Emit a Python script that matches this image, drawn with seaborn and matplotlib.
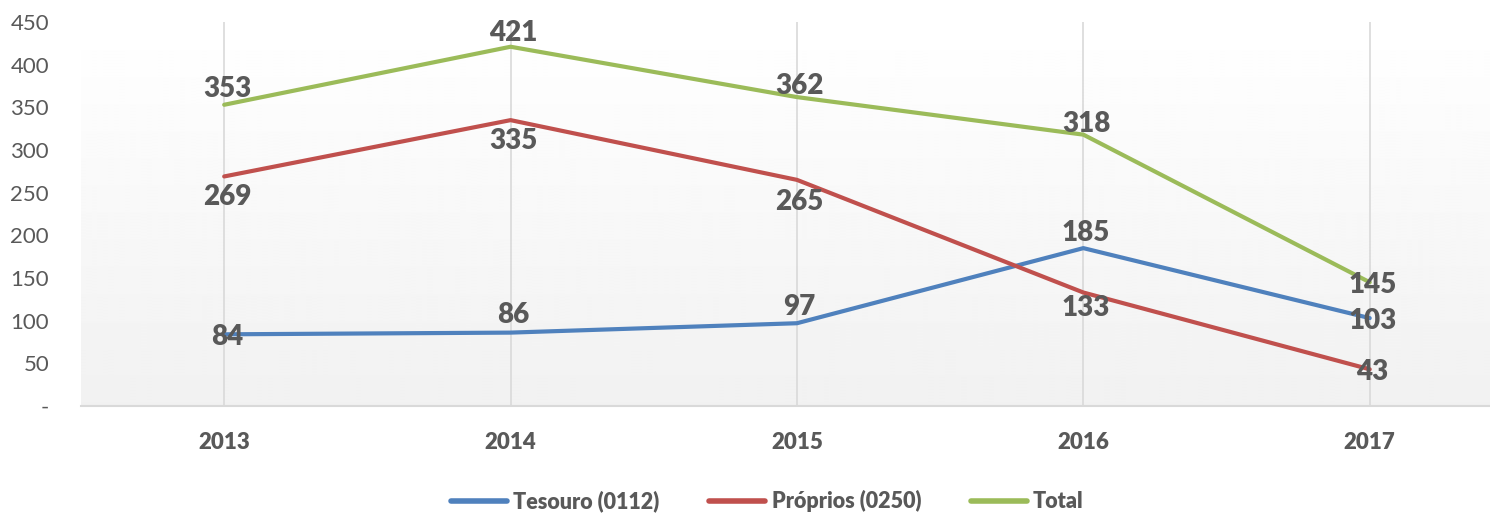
import numpy as np
import pandas as pd
import matplotlib
matplotlib.use('Agg')
import matplotlib.pyplot as plt
import seaborn as sns

# chart data
years = ['2013', '2014', '2015', '2016', '2017']
tesouro = [84, 86, 97, 185, 103]
proprios = [269, 335, 265, 133, 43]
total = [353, 421, 362, 318, 145]
series_names = ['Tesouro (0112)', 'Próprios (0250)', 'Total']
yticks = [0, 50, 100, 150, 200, 250, 300, 350, 400, 450]

colors = ['#4F81BD', '#C0504D', '#9BBB59']
text_color = '#595959'

# label offsets in points (dy) per series / point
label_dy = {
    'Tesouro (0112)': [-2, 13, 12, 11, -2],
    'Próprios (0250)': [-15, -15, -16, -11, -2],
    'Total': [11, 10, 8, 8, -2],
}

df = pd.DataFrame({'year': years * 3,
                   'value': tesouro + proprios + total,
                   'series': [s for s in series_names for _ in years]})
df['x'] = np.tile(np.arange(len(years)), 3)

sns.set_style('white')
plt.rcParams['font.family'] = ['Lato', 'DejaVu Sans']

fig = plt.figure(figsize=(14.9, 5.14), dpi=100)
ax = fig.add_axes([81 / 1490, 1 - 406 / 514, 1 - 81 / 1490, (406 - 22) / 514])

# gradient background
grad = np.linspace(1.0, 0.945, 256).reshape(-1, 1)
ax.imshow(grad, cmap='gray', vmin=0, vmax=1, aspect='auto',
          extent=[-0.5, 4.42, 0, 450], zorder=0, origin='upper')

for xv in range(len(years)):
    ax.axvline(xv, color='#d9d9d9', lw=1.2, zorder=1)

sns.lineplot(data=df, x='x', y='value', hue='series', hue_order=series_names,
             palette=colors, linewidth=3, ax=ax, zorder=3, legend=True)

for name in series_names:
    sub = df[df['series'] == name]
    for i, (xv, v) in enumerate(zip(sub['x'], sub['value'])):
        ax.annotate(str(v), (xv, v), xytext=(2, label_dy[name][i]),
                    textcoords='offset points', ha='center', va='center',
                    fontsize=20, fontweight='heavy', color=text_color, zorder=4)

ax.set_xlim(-0.5, 4.42)
ax.set_ylim(0, 450)
ax.set_yticks(yticks)
ax.set_yticklabels(['-' if t == 0 else str(t) for t in yticks])
ax.set_xticks(range(len(years)))
ax.set_xticklabels(years, fontweight='heavy')
ax.tick_params(axis='y', labelsize=16, colors=text_color, length=0, pad=23)
ax.tick_params(axis='x', labelsize=16, colors=text_color, length=0, pad=19)
for lab in ax.get_yticklabels():
    lab.set_horizontalalignment('right')
ax.set_xlabel('')
ax.set_ylabel('')
for s in ['top', 'right', 'left']:
    ax.spines[s].set_visible(False)
ax.spines['bottom'].set_color('#d9d9d9')
ax.spines['bottom'].set_linewidth(1.5)

handles, labels = ax.get_legend_handles_labels()
ax.legend_.remove()
for h in handles:
    h.set_linewidth(4)
leg = fig.legend(handles, labels, loc='center', bbox_to_anchor=(0.515, 0.025),
                 ncol=3, frameon=False, handlelength=2.6, columnspacing=2.3,
                 handletextpad=0.3, prop={'size': 15.5, 'weight': 'heavy'})
for t in leg.get_texts():
    t.set_color(text_color)

fig.savefig('out.png', dpi=100)
